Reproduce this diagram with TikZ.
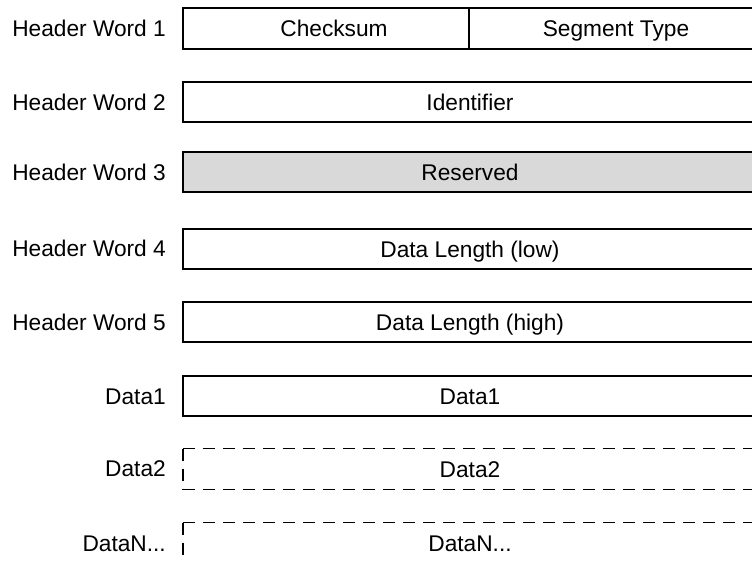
\documentclass[tikz,border=0pt]{standalone}
\usepackage{fontspec}
\setmainfont{Liberation Sans}
\begin{document}
\begin{tikzpicture}[x=1bp,y=-1bp,
  txt/.style={font=\fontsize{22.7bp}{27bp}\selectfont, text height=16.2bp, text depth=0bp, inner sep=0pt},
  fld/.style={txt, draw, line width=1.6bp, minimum height=40.5bp},
  full/.style={fld, minimum width=574bp},
  ghost/.style={txt, minimum width=574bp, minimum height=40.5bp},
  lbl/.style={txt, anchor=east},
  dsh/.style={line width=1.6bp, dash pattern=on 12.5bp off 7.5bp}]
\useasboundingbox (0,0) rectangle (752,561);
\clip (0,0) rectangle (752,561);
% labels
\node[lbl] (l1) at (166,28.5) {Header Word 1};
\node[lbl] (l2) at (166,102) {Header Word 2};
\node[lbl] (l3) at (166,172) {Header Word 3};
\node[lbl] (l4) at (166,248) {Header Word 4};
\node[lbl] (l5) at (166,322) {Header Word 5};
\node[lbl] (l6) at (166,396) {Data1};
\node[lbl] (l7) at (166,468) {Data2};
\node[lbl] (l8) at (166,543) {DataN...};
% fields
\node[fld, minimum width=286bp] (chk) at (326,28.5) {\hspace*{16bp}Checksum};
\node[fld, minimum width=294bp] (seg) at (616,28.5) {Segment Type};
\node[full] (ident) at (470,102) {Identifier};
\node[full, fill={rgb,255:red,217;green,217;blue,217}] (res) at (470,172) {Reserved};
\node[full] (dlow) at (470,249) {Data Length (low)};
\node[full] (dhigh) at (470,322) {Data Length (high)};
\node[full] (d1) at (470,396) {Data1};
\node[ghost] (d2) at (470,469) {Data2};
\node[ghost] (dn) at (470,543) {DataN...};
\draw[dsh] (d2.north west) -- (d2.north east);
\draw[dsh] (d2.north west) -- (d2.south west);
\draw[dsh] (d2.south west) -- (d2.south east);
\draw[dsh] (dn.north west) -- (dn.north east);
\draw[dsh] (dn.north west) -- (dn.south west);
\end{tikzpicture}
\end{document}
